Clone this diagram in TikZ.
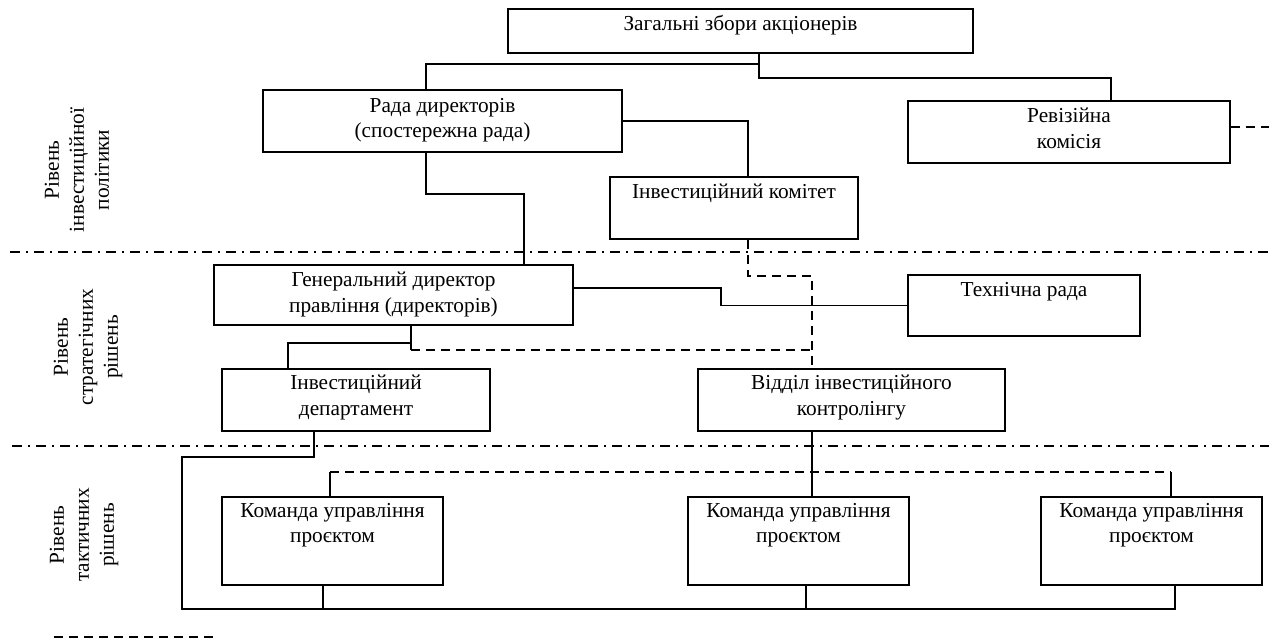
\documentclass[tikz,border=0pt]{standalone}
\usepackage{fontspec}
\setmainfont{Liberation Serif}
\begin{document}
\begin{tikzpicture}[x=1pt,y=-1pt,
  box/.style={draw,line width=1.9pt,rectangle,inner sep=0pt},
  txt/.style={anchor=north,align=center,font=\fontsize{21.3}{25.5}\selectfont,inner sep=0pt},
  lvl/.style={rotate=90,align=center,font=\fontsize{21.3}{25}\selectfont,inner sep=0pt},
  conn/.style={line width=1.8pt},
  dconn/.style={line width=1.8pt,dash pattern=on 9pt off 6pt},
  sep/.style={line width=1.8pt,dash pattern=on 10pt off 6pt on 2pt off 6pt}]
\useasboundingbox (0,0) rectangle (1269,641);
% boxes
\node[box,minimum width=465pt,minimum height=44pt] (top) at (740.5,31) {};
\node[box,minimum width=359pt,minimum height=62pt] (rada) at (442.5,121) {};
\node[box,minimum width=322pt,minimum height=62pt] (rev) at (1069,132) {};
\node[box,minimum width=248pt,minimum height=62pt] (ik) at (734,208) {};
\node[box,minimum width=359pt,minimum height=60pt] (gen) at (393.5,295) {};
\node[box,minimum width=232pt,minimum height=61pt] (tech) at (1024,305.5) {};
\node[box,minimum width=268pt,minimum height=62pt] (id) at (356,400) {};
\node[box,minimum width=307pt,minimum height=62pt] (vik) at (851.5,400) {};
\node[box,minimum width=221pt,minimum height=88pt] (k1) at (332.5,541) {};
\node[box,minimum width=221pt,minimum height=88pt] (k2) at (798.5,541) {};
\node[box,minimum width=221pt,minimum height=88pt] (k3) at (1151.5,541) {};
% texts
\node[txt] (ttop) at ([yshift=-7pt]top.north) {Загальні збори акціонерів};
\node[txt] (trada) at ([yshift=-9pt]rada.north) {Рада директорів\\(спостережна рада)};
\node[txt] (trev) at ([yshift=-8pt]rev.north) {Ревізійна\\комісія};
\node[txt] (tik) at ([yshift=-8pt]ik.north) {Інвестиційний комітет};
\node[txt] (tgen) at ([yshift=-8pt]gen.north) {Генеральний директор\\правління (директорів)};
\node[txt] (ttech) at ([yshift=-8pt]tech.north) {Технічна рада};
\node[txt] (tid) at ([yshift=-7pt]id.north) {Інвестиційний\\департамент};
\node[txt] (tvik) at ([yshift=-7pt]vik.north) {Відділ інвестиційного\\контролінгу};
\node[txt] (tk1) at ([yshift=-7pt]k1.north) {Команда управління\\проєктом};
\node[txt] (tk2) at ([yshift=-7pt]k2.north) {Команда управління\\проєктом};
\node[txt] (tk3) at ([yshift=-7pt]k3.north) {Команда управління\\проєктом};
% level labels
\node[lvl] (l1) at (77,170) {Рівень\\інвестиційної\\політики};
\node[lvl] (l2) at (88,347) {Рівень\\стратегічних\\рішень};
\node[lvl] (l3) at (84,535) {Рівень\\тактичних\\рішень};
% separators
\coordinate (s1a) at (10,252); \coordinate (s1b) at (1269,252);
\coordinate (s2a) at (12,446); \coordinate (s2b) at (1269,446);
\draw[sep] (s1a) -- (s1b);
\draw[sep] (s2a) -- (s2b);
% connectors
\draw[conn] ([xshift=18.5pt]top.south) -- ++(0,10) -| ([xshift=-16.5pt]rada.north);
\draw[conn] ([xshift=18.5pt]top.south) -- ++(0,24) -| ([xshift=42pt]rev.north);
\draw[conn] (rada.east) -| ([xshift=14pt]ik.north);
\draw[conn] ([xshift=-16.5pt]rada.south) -- ++(0,41) -| ([xshift=130.5pt]gen.north);
\draw[dconn] ([xshift=14pt]ik.south) -- ++(0,36) -| ([xshift=-39.5pt]vik.north);
\draw[conn] ([yshift=7pt]gen.east) -- ++(147,0) |- (tech.west);
\draw[conn] ([xshift=17.5pt]gen.south) -- ++(0,24);
\draw[conn] ([xshift=17.5pt]gen.south) ++(0,17) -| ([xshift=-68pt]id.north);
\draw[dconn] ([xshift=17.5pt]gen.south) ++(0,24) -- ++(401,0);
\draw[conn] ([xshift=-42pt]id.south) -- ++(0,25) -- ++(-132,0) |- ([xshift=23.5pt,yshift=-23pt]k3.south) -- ([xshift=23.5pt]k3.south);
\draw[conn] ([xshift=-9.5pt]k1.south) -- ++(0,23);
\draw[conn] ([xshift=7.5pt]k2.south) -- ++(0,23);
\draw[conn] ([xshift=-39.5pt]vik.south) -- ([xshift=13.5pt]k2.north);
\draw[conn] ([xshift=-2.5pt]k1.north) -- ++(0,-24);
\draw[dconn] ([xshift=-2.5pt,yshift=24pt]k1.north) -- ([xshift=19.5pt,yshift=24pt]k3.north);
\draw[conn] ([xshift=19.5pt,yshift=24pt]k3.north) -- ([xshift=19.5pt]k3.north);
\draw[dconn] ([yshift=5pt]rev.east) -- ++(39,0);
% legend
\coordinate (lg1) at (54,637); \coordinate (lg2) at (216,637);
\draw[dconn] (lg1) -- (lg2);
\end{tikzpicture}
\end{document}
